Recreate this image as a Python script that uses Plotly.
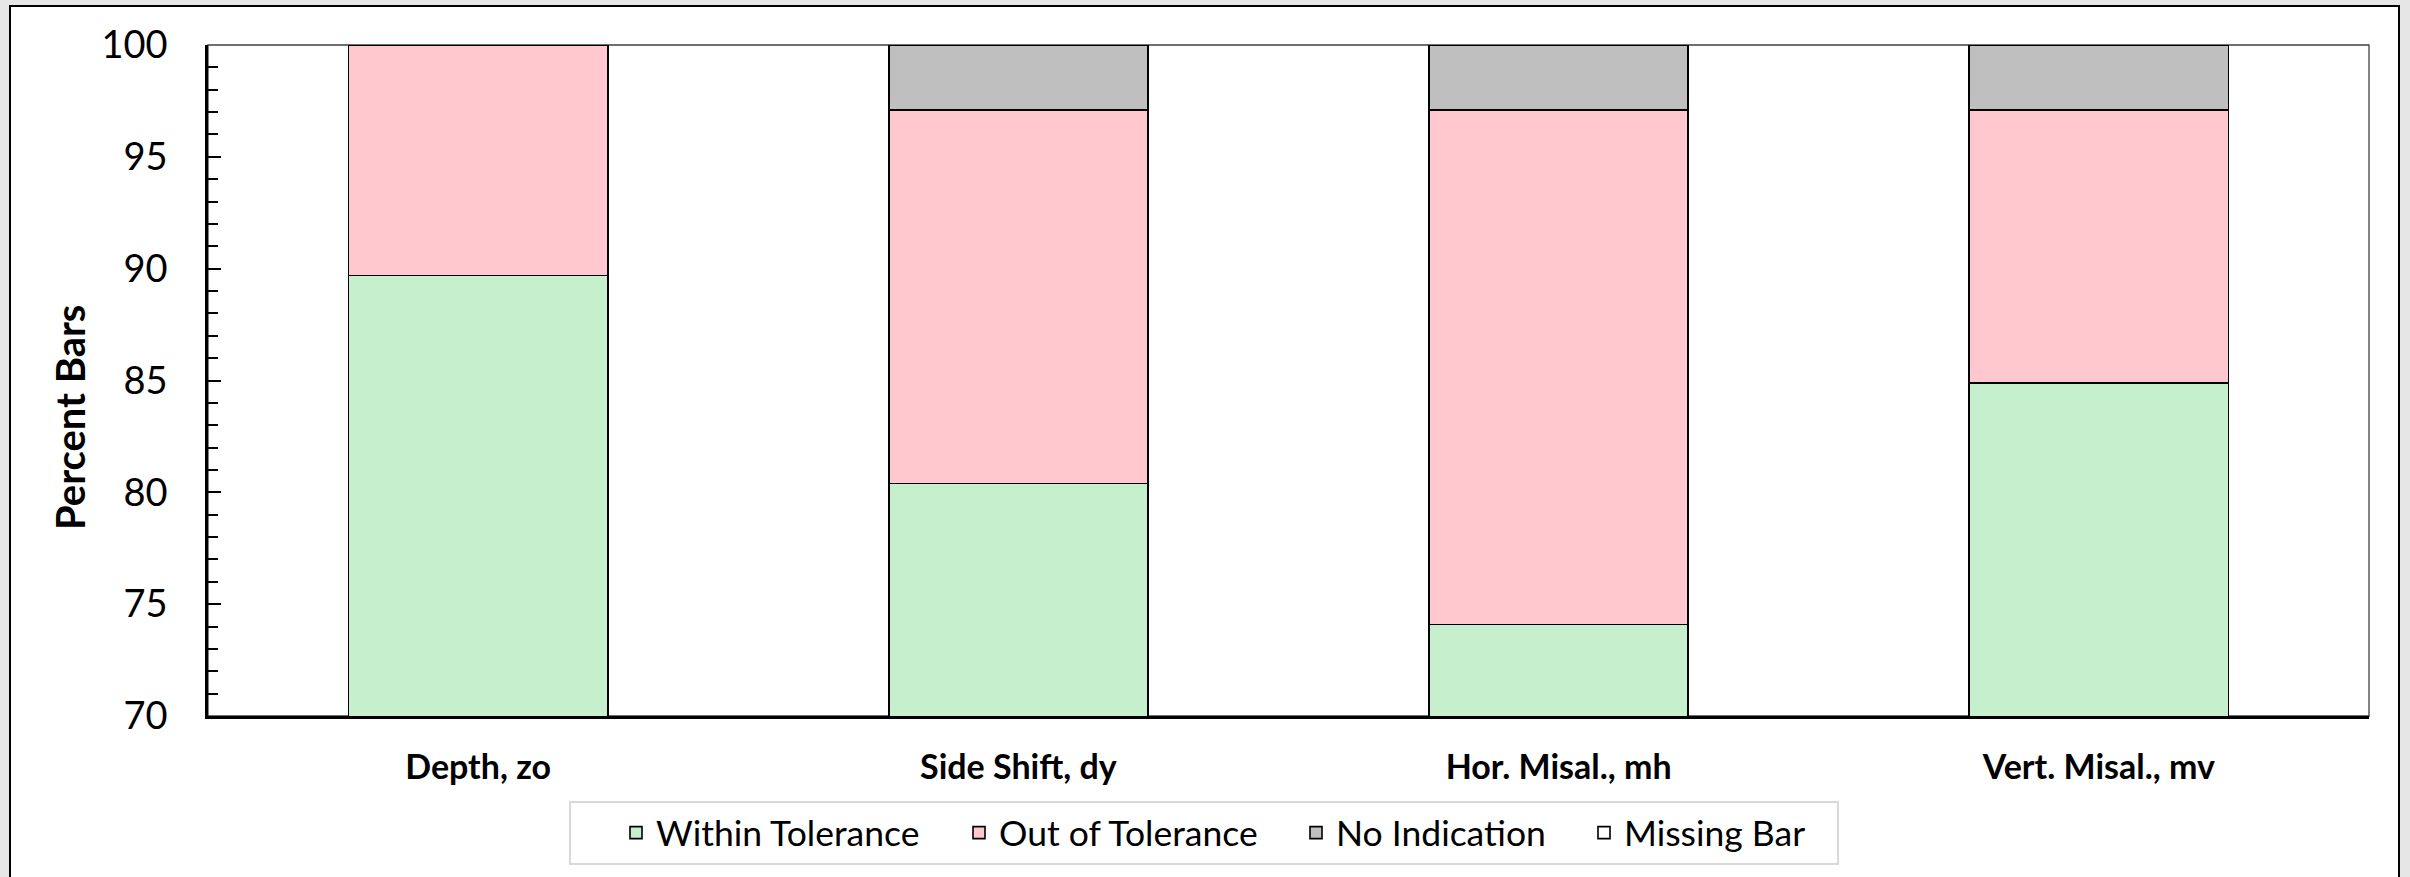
import plotly.graph_objects as go

# Measured features and the share of bars in each result class (percent)
categories = ["Depth, zo", "Side Shift, dy", "Hor. Misal., mh", "Vert. Misal., mv"]
within_tolerance = [89.7, 80.4, 74.1, 84.9]
out_of_tolerance = [10.3, 16.7, 23.0, 12.2]
no_indication = [0.0, 2.9, 2.9, 2.9]
missing_bar = [0.0, 0.0, 0.0, 0.0]

series = [
    ("Within Tolerance", within_tolerance, "#c6efce", 298),
    ("Out of Tolerance", out_of_tolerance, "#ffc7ce", 292),
    ("No Indication", no_indication, "#bfbfbf", 243),
    ("Missing Bar", missing_bar, "#ffffff", 200),
]

W, H = 2410, 877
ML, MR, MT, MB = 208, 41, 45, 161
PW, PH = W - ML - MR, H - MT - MB

FONT = "Lato"

fig = go.Figure()
for name, vals, color, lw in series:
    fig.add_trace(go.Bar(
        x=categories, y=vals, name=name, width=0.48, legendwidth=lw,
        marker=dict(color=color, line=dict(color="#000000", width=1.6)),
    ))


def px_x(p):
    return (p - ML) / PW


def px_y(p):
    return 1 - (p - MT) / PH


# White chart frame with a black border on the grey page
fig.add_shape(type="rect", xref="paper", yref="paper", layer="below",
              x0=px_x(10), x1=px_x(2399), y0=px_y(890), y1=px_y(6),
              fillcolor="#ffffff", line=dict(color="#000000", width=2))
# Plot area outline (top and right edges)
fig.add_shape(type="rect", xref="paper", yref="paper", layer="below",
              x0=0, x1=1, y0=0, y1=1,
              line=dict(color="#404040", width=1.3))
# Legend box
fig.add_shape(type="rect", xref="paper", yref="paper", layer="below",
              x0=px_x(570), x1=px_x(1838), y0=px_y(864), y1=px_y(802),
              fillcolor="#ffffff", line=dict(color="#d9d9d9", width=2))

# Vertical axis title
fig.add_annotation(text="<b>Percent Bars</b>", xref="paper", yref="paper",
                   x=px_x(70), y=px_y(418), xanchor="center", yanchor="middle",
                   textangle=-90, showarrow=False,
                   font=dict(family=FONT, size=40, color="#000000"))

fig.update_layout(
    width=W, height=H,
    margin=dict(l=ML, r=MR, t=MT, b=MB),
    paper_bgcolor="#e6e6e6",
    plot_bgcolor="#ffffff",
    barmode="stack",
    bargap=0.52,
    font=dict(family=FONT, color="#000000"),
    showlegend=True,
    legend=dict(
        orientation="h", x=px_x(616), xanchor="left",
        y=px_y(833), yanchor="middle",
        borderwidth=0, bgcolor="rgba(0,0,0,0)",
        font=dict(family=FONT, size=35.5, color="#000000"),
        traceorder="normal", itemclick=False,
    ),
)

fig.update_xaxes(
    type="category",
    showline=True, linecolor="#000000", linewidth=2.5,
    ticks="", showgrid=False,
    tickfont=dict(family=FONT, size=34, color="#000000", weight="bold"),
    ticklabelstandoff=19,
)

fig.update_yaxes(
    range=[70, 100], dtick=5, tick0=70,
    showline=True, linecolor="#000000", linewidth=2.5,
    ticks="inside", ticklen=13, tickwidth=2, tickcolor="#000000",
    minor=dict(dtick=1, ticks="inside", ticklen=10, tickwidth=2, tickcolor="#000000", showgrid=False),
    showgrid=False, zeroline=False,
    tickfont=dict(family=FONT, size=38, color="#000000"),
    ticklabelstandoff=30,
)

fig.write_html("out.html")
